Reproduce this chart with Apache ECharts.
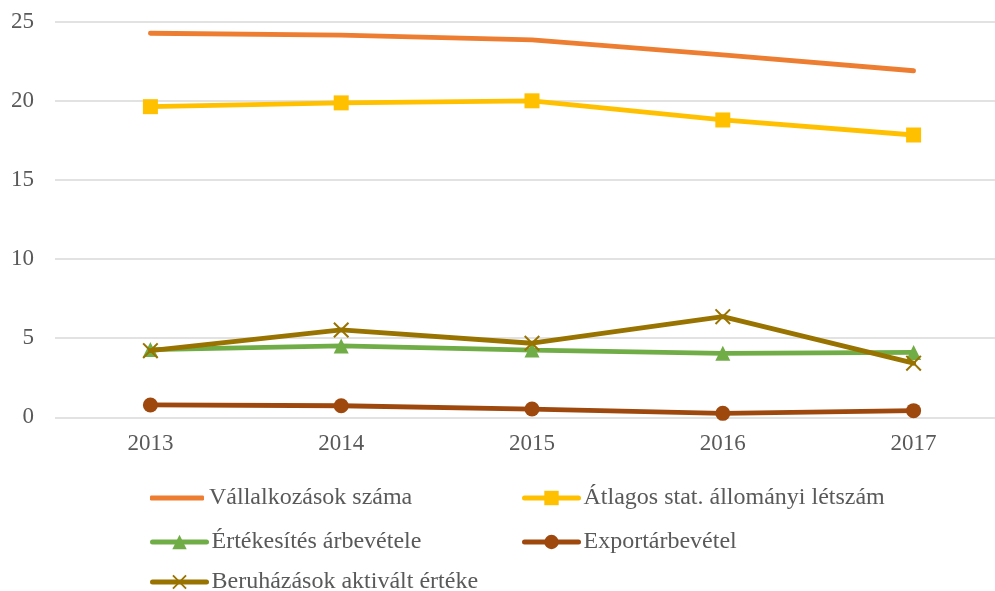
<!DOCTYPE html>
<html><head><meta charset="utf-8">
<script src="https://cdn.jsdelivr.net/npm/echarts@6/dist/echarts.min.js"></script>
<style>html,body{margin:0;padding:0;background:#fff;overflow:hidden}#c{width:1009px;height:591px}</style>
</head><body><div id="c"></div>
<script>
const categories = ['2013','2014','2015','2016','2017'];
const yTicks = [0,5,10,15,20,25];
const seriesNames = ['Vállalkozások száma','Átlagos stat. állományi létszám','Értékesítés árbevétele','Exportárbevétel','Beruházások aktivált értéke'];
const vallalkozasok = [24.27, 24.15, 23.85, 22.9, 21.9];
const atlagos = [19.63, 19.87, 20.0, 18.79, 17.84];
const ertekesites = [4.28, 4.51, 4.25, 4.04, 4.1];
const export_ = [0.78, 0.73, 0.52, 0.25, 0.42];
const beruhazasok = [4.21, 5.52, 4.68, 6.36, 3.42];

const colors = ['#ED7D31','#FFC000','#70AD47','#9E480E','#997300'];
const symbols = ['none','rect','triangle','circle','path://M0,0.9L0.9,0L5,4.1L9.1,0L10,0.9L5.9,5L10,9.1L9.1,10L5,5.9L0.9,10L0,9.1L4.1,5Z'];
const symbolSizes = [0, 15, 15, 15, 16];
const values = [vallalkozasok, atlagos, ertekesites, export_, beruhazasok];
const font = '"Liberation Serif", "Times New Roman", serif';

const legendPos = [[150,486],[522,486],[150,530],[522,530],[150,570]];

const chart = echarts.init(document.getElementById('c'));
chart.setOption({
  animation: false,
  grid: {left: 55, right: 0, top: 21.7, bottom: 591-417.3, containLabel: false},
  xAxis: {
    type: 'category', data: categories, boundaryGap: true,
    axisLine: {show: false}, axisTick: {show: false},
    axisLabel: {color: '#595959', fontFamily: font, fontSize: 23, margin: 15}
  },
  yAxis: {
    type: 'value', min: 0, max: 25, interval: 5,
    axisLine: {show: false}, axisTick: {show: false},
    axisLabel: {color: '#595959', fontFamily: font, fontSize: 23, margin: 21},
    splitLine: {lineStyle: {color: '#D9D9D9', width: 1.5}}
  },
  legend: seriesNames.map((n, i) => {
    const base = {
      data: [n], left: legendPos[i][0], top: legendPos[i][1],
      itemWidth: 54, itemHeight: 18, itemGap: 0, padding: 0,
      lineStyle: {width: 5, cap: 'round'},
      textStyle: {color: '#595959', fontFamily: font, fontSize: 24}
    };
    if (i === 0) {
      base.data = [{name: n, icon: 'roundRect'}];
      base.itemHeight = 5;
    }
    return base;
  }),
  series: seriesNames.map((n, i) => ({
    name: n, type: 'line', data: values[i],
    symbol: symbols[i], symbolSize: symbolSizes[i], showSymbol: i !== 0,
    lineStyle: {color: colors[i], width: 4.8, cap: 'round'},
    itemStyle: {color: colors[i]},
    z: 2 + i
  }))
});
</script></body></html>
